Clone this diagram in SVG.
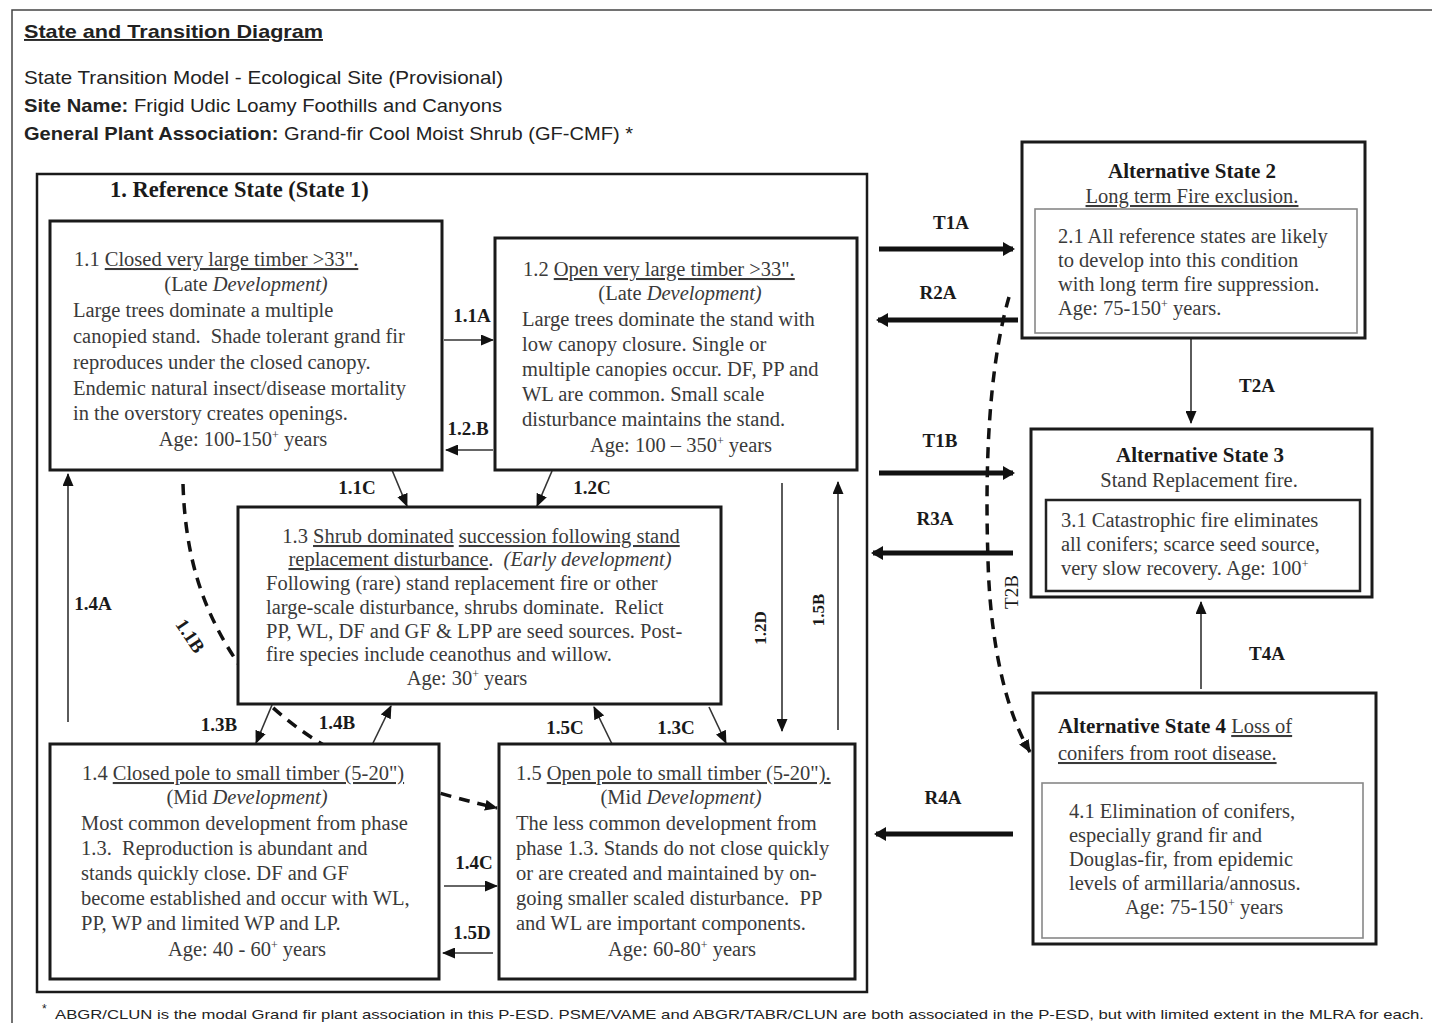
<svg xmlns="http://www.w3.org/2000/svg" width="1432" height="1023" viewBox="0 0 1432 1023">
<defs>
<style>
.hdr{font-family:"Liberation Sans",Arial,sans-serif;font-size:19px;fill:#222}
.b{font-weight:bold}
.box{fill:#fff;stroke:#1a1a1a;stroke-width:3}
.body{font-family:"Liberation Serif","Times New Roman",serif;font-size:20.5px;fill:#3a3a3a;white-space:pre}
.ttl{font-family:"Liberation Serif","Times New Roman",serif;font-size:22.5px;font-weight:bold;fill:#1a1a1a}
.lbl{font-family:"Liberation Serif","Times New Roman",serif;font-size:19px;font-weight:bold;fill:#1a1a1a}
.u{text-decoration:underline}
.i{font-style:italic}
.sup{font-size:12px}
.thin{fill:none;stroke:#333;stroke-width:1.6}
.thick{fill:none;stroke:#111;stroke-width:5}
.dash{fill:none;stroke:#111;stroke-width:3.5;stroke-dasharray:11 8}
</style>
<marker id="ah" markerUnits="userSpaceOnUse" markerWidth="13" markerHeight="11" refX="12" refY="5.5" orient="auto"><path d="M0,0 L13,5.5 L0,11 z" fill="#111"/></marker>
<marker id="ahk" markerUnits="userSpaceOnUse" markerWidth="12" markerHeight="14" refX="10" refY="7" orient="auto"><path d="M0,0 L12,7 L0,14 z" fill="#111"/></marker>
</defs>
<rect x="0" y="0" width="1432" height="1023" fill="#fff"/>
<rect x="12" y="10" width="1430" height="1030" fill="none" stroke="#444" stroke-width="1.5"/>

<g id="header">
<text class="hdr b u" x="24" y="38" textLength="299" lengthAdjust="spacingAndGlyphs">State and Transition Diagram</text>
<text class="hdr" x="24" y="84" textLength="479" lengthAdjust="spacingAndGlyphs">State Transition Model - Ecological Site (Provisional)</text>
<text class="hdr" x="24" y="112" textLength="478" lengthAdjust="spacingAndGlyphs"><tspan class="b">Site Name:</tspan> Frigid Udic Loamy Foothills and Canyons</text>
<text class="hdr" x="24" y="140" textLength="609" lengthAdjust="spacingAndGlyphs"><tspan class="b">General Plant Association:</tspan> Grand-fir Cool Moist Shrub (GF-CMF) *</text>
</g>

<g id="state1">
<rect x="37" y="174" width="830" height="818" fill="#fff" stroke="#1a1a1a" stroke-width="2.5"/>
<text class="ttl" x="110" y="197">1. Reference State (State 1)</text>
</g>

<g id="connectors">
<path id="c11B" class="dash" d="M183,484 C186,580 215,640 270,705 C330,760 400,785 497,808" marker-end="url(#ah)"/>
<path id="cT2B" class="dash" d="M1009,297 C988,370 985,470 988,560 C990,640 1005,710 1030,752" marker-end="url(#ah)"/>
<line class="thin" x1="444" y1="340" x2="493" y2="340" marker-end="url(#ah)"/>
<line class="thin" x1="493" y1="450" x2="446" y2="450" marker-end="url(#ah)"/>
<line class="thin" x1="392" y1="470" x2="407" y2="506" marker-end="url(#ah)"/>
<line class="thin" x1="552" y1="471" x2="537" y2="506" marker-end="url(#ah)"/>
<line class="thin" x1="68" y1="722" x2="68" y2="474" marker-end="url(#ah)"/>
<line class="thin" x1="272" y1="705" x2="256" y2="743" marker-end="url(#ah)"/>
<line class="thin" x1="373" y1="743" x2="391" y2="706" marker-end="url(#ah)"/>
<line class="thin" x1="612" y1="744" x2="594" y2="707" marker-end="url(#ah)"/>
<line class="thin" x1="709" y1="707" x2="726" y2="743" marker-end="url(#ah)"/>
<line class="thin" x1="782" y1="483" x2="782" y2="731" marker-end="url(#ah)"/>
<line class="thin" x1="838" y1="730" x2="838" y2="482" marker-end="url(#ah)"/>
<line class="thin" x1="444" y1="886" x2="497" y2="886" marker-end="url(#ah)"/>
<line class="thin" x1="493" y1="953" x2="443" y2="953" marker-end="url(#ah)"/>
<line class="thin" x1="1191" y1="339" x2="1191" y2="423" marker-end="url(#ah)"/>
<line class="thin" x1="1201" y1="689" x2="1201" y2="602" marker-end="url(#ah)"/>
<line class="thick" x1="879" y1="249" x2="1013" y2="249" marker-end="url(#ahk)"/>
<line class="thick" x1="1018" y1="320" x2="878" y2="320" marker-end="url(#ahk)"/>
<line class="thick" x1="879" y1="473" x2="1013" y2="473" marker-end="url(#ahk)"/>
<line class="thick" x1="1013" y1="553" x2="873" y2="553" marker-end="url(#ahk)"/>
<line class="thick" x1="1013" y1="834" x2="876" y2="834" marker-end="url(#ahk)"/>
<text class="lbl" x="472" y="322" text-anchor="middle">1.1A</text>
<text class="lbl" x="468" y="435" text-anchor="middle">1.2.B</text>
<text class="lbl" x="357" y="494" text-anchor="middle">1.1C</text>
<text class="lbl" x="592" y="494" text-anchor="middle">1.2C</text>
<text class="lbl" x="93" y="610" text-anchor="middle">1.4A</text>
<text class="lbl" x="219" y="731" text-anchor="middle">1.3B</text>
<text class="lbl" x="337" y="729" text-anchor="middle">1.4B</text>
<text class="lbl" x="565" y="734" text-anchor="middle">1.5C</text>
<text class="lbl" x="676" y="734" text-anchor="middle">1.3C</text>
<text class="lbl" x="474" y="869" text-anchor="middle">1.4C</text>
<text class="lbl" x="472" y="939" text-anchor="middle">1.5D</text>
<text class="lbl" transform="translate(190,636) rotate(56)" x="0" y="6" text-anchor="middle">1.1B</text>
<text class="lbl" transform="translate(760,628) rotate(-90)" x="0" y="6" text-anchor="middle" style="font-size:17px">1.2D</text>
<text class="lbl" transform="translate(818,610) rotate(-90)" x="0" y="6" text-anchor="middle" style="font-size:17px">1.5B</text>
<text class="lbl" transform="translate(1012,592) rotate(-90)" x="0" y="6" text-anchor="middle" style="font-weight:normal">T2B</text>
<text class="lbl" x="951" y="229" text-anchor="middle">T1A</text>
<text class="lbl" x="938" y="299" text-anchor="middle">R2A</text>
<text class="lbl" x="1257" y="392" text-anchor="middle">T2A</text>
<text class="lbl" x="940" y="447" text-anchor="middle">T1B</text>
<text class="lbl" x="935" y="525" text-anchor="middle">R3A</text>
<text class="lbl" x="1267" y="660" text-anchor="middle">T4A</text>
<text class="lbl" x="943" y="804" text-anchor="middle">R4A</text>
</g>

<g id="phase11">
<rect class="box" x="50" y="221" width="392" height="249"/>
<text class="body" x="74" y="266">1.1 <tspan class="u">Closed very large timber &gt;33".</tspan></text>
<text class="body" x="246" y="291" text-anchor="middle">(Late <tspan class="i">Development)</tspan></text>
<text class="body" x="73" y="317">Large trees dominate a multiple</text>
<text class="body" x="73" y="343">canopied stand.  Shade tolerant grand fir</text>
<text class="body" x="73" y="369">reproduces under the closed canopy.</text>
<text class="body" x="73" y="395">Endemic natural insect/disease mortality</text>
<text class="body" x="73" y="420">in the overstory creates openings.</text>
<text class="body" x="243" y="446" text-anchor="middle">Age: 100-150<tspan class="sup" dy="-7">+</tspan><tspan dy="7"> years</tspan></text>
</g>

<g id="phase12">
<rect class="box" x="495" y="238" width="362" height="232"/>
<text class="body" x="523" y="276">1.2 <tspan class="u">Open very large timber &gt;33".</tspan></text>
<text class="body" x="680" y="300" text-anchor="middle">(Late <tspan class="i">Development)</tspan></text>
<text class="body" x="522" y="326">Large trees dominate the stand with</text>
<text class="body" x="522" y="351">low canopy closure. Single or</text>
<text class="body" x="522" y="376">multiple canopies occur. DF, PP and</text>
<text class="body" x="522" y="401">WL are common. Small scale</text>
<text class="body" x="522" y="426">disturbance maintains the stand.</text>
<text class="body" x="681" y="452" text-anchor="middle">Age: 100 – 350<tspan class="sup" dy="-7">+</tspan><tspan dy="7"> years</tspan></text>
</g>

<g id="phase13">
<rect class="box" x="238" y="507" width="483" height="197"/>
<text class="body" x="481" y="543" text-anchor="middle">1.3 <tspan class="u">Shrub dominated</tspan> <tspan class="u">succession following stand</tspan></text>
<text class="body" x="480" y="566" text-anchor="middle"><tspan class="u">replacement disturbance</tspan>.  <tspan class="i">(Early development)</tspan></text>
<text class="body" x="266" y="590">Following (rare) stand replacement fire or other</text>
<text class="body" x="266" y="614">large-scale disturbance, shrubs dominate.  Relict</text>
<text class="body" x="266" y="638">PP, WL, DF and GF &amp; LPP are seed sources. Post-</text>
<text class="body" x="266" y="661">fire species include ceanothus and willow.</text>
<text class="body" x="467" y="685" text-anchor="middle">Age: 30<tspan class="sup" dy="-7">+</tspan><tspan dy="7"> years</tspan></text>
</g>

<g id="phase14">
<rect class="box" x="50" y="744" width="389" height="235"/>
<text class="body" x="82" y="780">1.4 <tspan class="u">Closed pole to small timber (5-20")</tspan></text>
<text class="body" x="247" y="804" text-anchor="middle">(Mid <tspan class="i">Development)</tspan></text>
<text class="body" x="81" y="830">Most common development from phase</text>
<text class="body" x="81" y="855">1.3.  Reproduction is abundant and</text>
<text class="body" x="81" y="880">stands quickly close. DF and GF</text>
<text class="body" x="81" y="905">become established and occur with WL,</text>
<text class="body" x="81" y="930">PP, WP and limited WP and LP.</text>
<text class="body" x="247" y="956" text-anchor="middle">Age: 40 - 60<tspan class="sup" dy="-7">+</tspan><tspan dy="7"> years</tspan></text>
</g>

<g id="phase15">
<rect class="box" x="499" y="744" width="356" height="235"/>
<text class="body" x="516" y="780">1.5 <tspan class="u">Open pole to small timber (5-20").</tspan></text>
<text class="body" x="681" y="804" text-anchor="middle">(Mid <tspan class="i">Development)</tspan></text>
<text class="body" x="516" y="830">The less common development from</text>
<text class="body" x="516" y="855">phase 1.3. Stands do not close quickly</text>
<text class="body" x="516" y="880">or are created and maintained by on-</text>
<text class="body" x="516" y="905">going smaller scaled disturbance.  PP</text>
<text class="body" x="516" y="930">and WL are important components.</text>
<text class="body" x="682" y="956" text-anchor="middle">Age: 60-80<tspan class="sup" dy="-7">+</tspan><tspan dy="7"> years</tspan></text>
</g>

<g id="state2">
<rect class="box" x="1022" y="142" width="343" height="196"/>
<text class="ttl" x="1192" y="178" text-anchor="middle" style="font-size:21px">Alternative State 2</text>
<text class="body u" x="1192" y="203" text-anchor="middle">Long term Fire exclusion.</text>
<rect x="1035" y="209" width="322" height="124" fill="none" stroke="#888" stroke-width="1.6"/>
<text class="body" x="1058" y="243">2.1 All reference states are likely</text>
<text class="body" x="1058" y="267">to develop into this condition</text>
<text class="body" x="1058" y="291">with long term fire suppression.</text>
<text class="body" x="1058" y="315">Age: 75-150<tspan class="sup" dy="-7">+</tspan><tspan dy="7"> years.</tspan></text>
</g>

<g id="state3">
<rect class="box" x="1031" y="429" width="341" height="168"/>
<text class="ttl" x="1200" y="462" text-anchor="middle" style="font-size:21px">Alternative State 3</text>
<text class="body" x="1199" y="487" text-anchor="middle">Stand Replacement fire.</text>
<rect x="1046" y="500" width="314" height="91" fill="none" stroke="#222" stroke-width="2.5"/>
<text class="body" x="1061" y="527">3.1 Catastrophic fire eliminates</text>
<text class="body" x="1061" y="551">all conifers; scarce seed source,</text>
<text class="body" x="1061" y="575">very slow recovery. Age: 100<tspan class="sup" dy="-7">+</tspan></text>
</g>

<g id="state4">
<rect class="box" x="1033" y="693" width="343" height="251"/>
<text class="ttl" x="1058" y="733" style="font-size:21px">Alternative State 4 <tspan class="u" style="font-weight:normal;font-size:20.5px;fill:#3a3a3a">Loss of</tspan></text>
<text class="body u" x="1058" y="760">conifers from root disease.</text>
<rect x="1042" y="783" width="321" height="155" fill="none" stroke="#888" stroke-width="1.6"/>
<text class="body" x="1069" y="818">4.1 Elimination of conifers,</text>
<text class="body" x="1069" y="842">especially grand fir and</text>
<text class="body" x="1069" y="866">Douglas-fir, from epidemic</text>
<text class="body" x="1069" y="890">levels of armillaria/annosus.</text>
<text class="body" x="1125" y="914">Age: 75-150<tspan class="sup" dy="-7">+</tspan><tspan dy="7"> years</tspan></text>
</g>

<g id="footnote">
<text class="hdr" x="42" y="1013" style="font-size:12px">*</text>
<text class="hdr" x="55" y="1019" style="font-size:13.5px" textLength="1369" lengthAdjust="spacingAndGlyphs">ABGR/CLUN is the modal Grand fir plant association in this P-ESD. PSME/VAME and ABGR/TABR/CLUN are both associated in the P-ESD, but with limited extent in the MLRA for each.</text>
</g>
</svg>
